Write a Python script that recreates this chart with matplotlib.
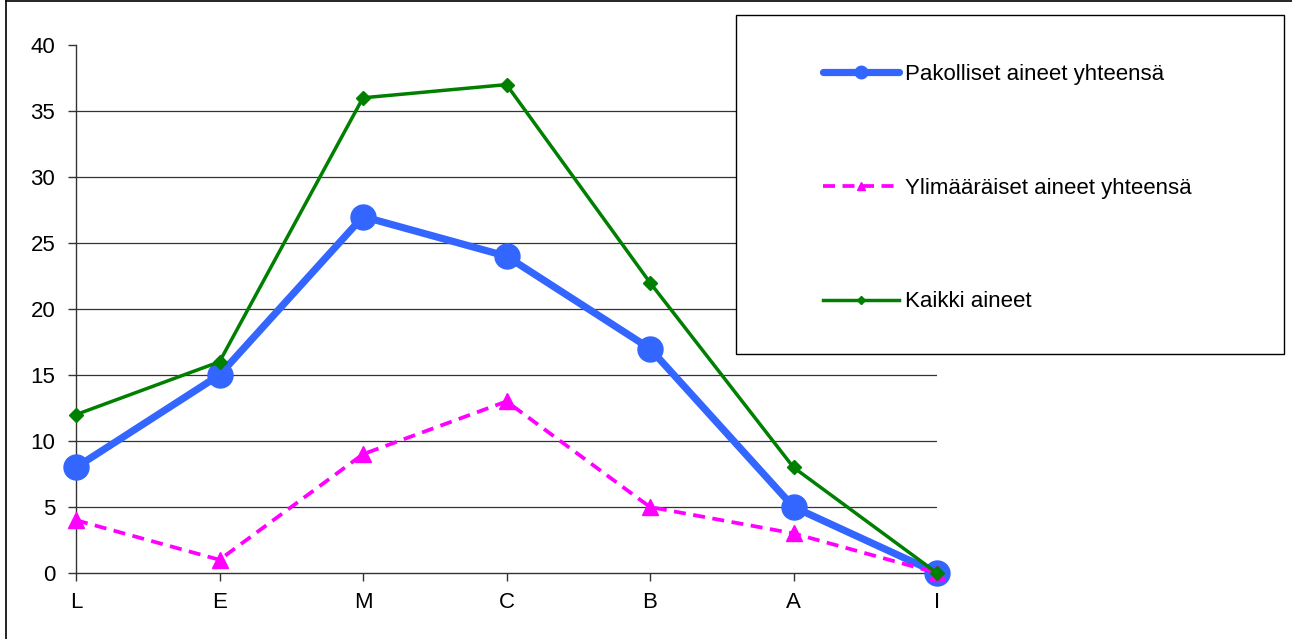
import matplotlib
matplotlib.use("Agg")
import matplotlib.pyplot as plt
from matplotlib.lines import Line2D
from matplotlib.patches import Rectangle

plt.rcParams['font.family'] = ['Liberation Sans', 'DejaVu Sans']

# data
categories = ["L", "E", "M", "C", "B", "A", "I"]
pakolliset = [8, 15, 27, 24, 17, 5, 0]
ylimaaraiset = [4, 1, 9, 13, 5, 3, 0]
kaikki = [12, 16, 36, 37, 22, 8, 0]
yticks = [0, 5, 10, 15, 20, 25, 30, 35, 40]

W, H = 1292, 639
fig = plt.figure(figsize=(W / 100, H / 100), dpi=100)
ax = fig.add_axes([76 / W, 1 - 573 / H, (937 - 76) / W, (573 - 45) / H])

x = list(range(len(categories)))
l1, = ax.plot(x, pakolliset, color='#3366FF', lw=5.2, marker='o', ms=18,
              solid_capstyle='round', label='Pakolliset aineet yhteensä', zorder=3, clip_on=False)
l2, = ax.plot(x, ylimaaraiset, color='#FF00FF', lw=2.7, ls=(0, (3.2, 2)), marker='^', ms=11,
              label='Ylimääräiset aineet yhteensä', zorder=4, clip_on=False)
l3, = ax.plot(x, kaikki, color='#007F00', lw=2.5, marker='D', ms=7.5,
              label='Kaikki aineet', zorder=5, clip_on=False)

ax.set_xlim(0, 6)
ax.set_ylim(0, 40)
ax.set_xticks(x)
ax.set_xticklabels(categories)
ax.set_yticks(yticks)
ax.tick_params(axis='both', labelsize=16, length=6, width=1, color='#333333', direction='out')
ax.tick_params(axis='y', pad=9)
ax.tick_params(axis='x', pad=8)

for v in yticks[1:-1]:
    ax.axhline(v, color='#333333', lw=0.9, zorder=1)

for s in ['top', 'right']:
    ax.spines[s].set_visible(False)
ax.spines['left'].set_linewidth(1)
ax.spines['bottom'].set_linewidth(1)
ax.spines['left'].set_color('#333333')
ax.spines['bottom'].set_color('#333333')

# legend box
fig.patches.append(Rectangle((736 / W, 1 - 354 / H), (1284 - 736) / W, (354 - 15) / H,
                             transform=fig.transFigure, facecolor='white',
                             edgecolor='black', lw=1, zorder=10))
leg = fig.legend(handles=[l1, l2, l3], loc='upper left',
                 bbox_to_anchor=(823 / W, 1 - 64 / H), frameon=False,
                 fontsize=16, handlelength=3.4, handletextpad=0.3,
                 labelspacing=4.17, borderpad=0, borderaxespad=0, markerscale=0.5)
leg.set_zorder(11)

# outer chart border (top and left edges visible)
fig.add_artist(Line2D([6 / W, 6 / W], [0, 1 - 1 / H], transform=fig.transFigure, color='black', lw=1.2))
fig.add_artist(Line2D([6 / W, 1], [1 - 1 / H, 1 - 1 / H], transform=fig.transFigure, color='black', lw=1.2))

fig.savefig('out.png', dpi=100)
